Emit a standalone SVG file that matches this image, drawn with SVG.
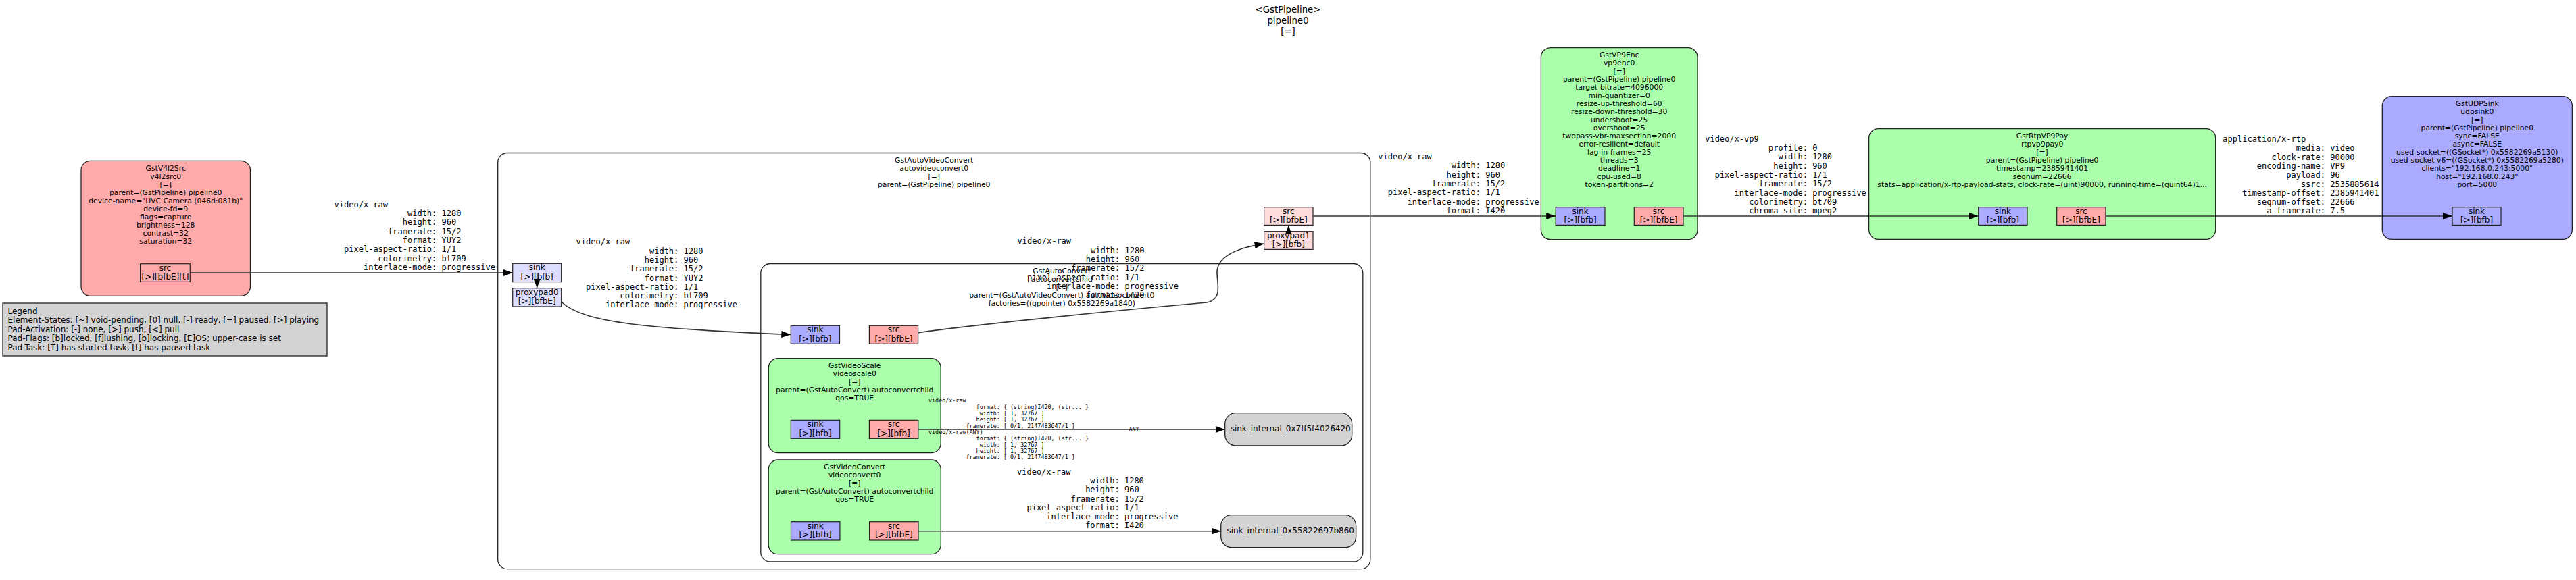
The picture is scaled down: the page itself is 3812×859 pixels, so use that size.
<svg xmlns="http://www.w3.org/2000/svg" width="3812" height="859" viewBox="0 0 3812 859">
<style>
text { font-family: "DejaVu Sans", "Noto Sans", sans-serif; fill: #000; }
.ttl { font-size: 13.3px; text-anchor: middle; }
.el { font-size: 10.8px; text-anchor: middle; }
.pad { font-size: 12px; text-anchor: middle; }
.leg { font-size: 12px; }
.nd { font-size: 12px; text-anchor: middle; }
.mono { font-family: "DejaVu Sans Mono", "Liberation Mono", monospace; font-size: 12px; white-space: pre; }
.tiny { font-family: "DejaVu Sans Mono", "Liberation Mono", monospace; font-size: 8.4px; white-space: pre; }
.box { stroke: #222; stroke-width: 1.3; }
.padbox { stroke: #222; stroke-width: 1.2; }
.edge { fill: none; stroke: #333; stroke-width: 1.6; marker-end: url(#arr); }
.green { fill: #aaffaa; }
.red { fill: #ffaaaa; }
.blue { fill: #aaaaff; }
.lred { fill: #ffdddd; }
.lblue { fill: #ddddff; }
.grey { fill: #d3d3d3; }
.white { fill: #ffffff; }
</style>
<defs>
<marker id="arr" markerWidth="14" markerHeight="10" refX="14" refY="5" orient="auto" markerUnits="userSpaceOnUse">
<path d="M0,0 L14,5 L0,10 z" fill="#000"/>
</marker>
</defs>
<rect width="3812" height="859" fill="#fff"/>

<g id="pipeline-label">
<text class="ttl" x="1906" y="18.5">&lt;GstPipeline&gt;</text>
<text class="ttl" x="1906" y="34.5">pipeline0</text>
<text class="ttl" x="1906" y="50.5">[=]</text>
</g>

<g id="legend">
<rect class="box grey" x="4" y="449" width="480" height="78"/>
<text class="leg" x="11.5" y="464.5">Legend</text>
<text class="leg" x="11.5" y="478">Element-States: [~] void-pending, [0] null, [-] ready, [=] paused, [&gt;] playing</text>
<text class="leg" x="11.5" y="491.5">Pad-Activation: [-] none, [&gt;] push, [&lt;] pull</text>
<text class="leg" x="11.5" y="505">Pad-Flags: [b]locked, [f]lushing, [b]locking, [E]OS; upper-case is set</text>
<text class="leg" x="11.5" y="518.5">Pad-Task: [T] has started task, [t] has paused task</text>
</g>

<g id="v4l2src0">
<rect class="box red" x="120" y="238.3" width="250.5" height="200" rx="14"/>
<text class="el" x="245.2" y="252.8">GstV4l2Src</text>
<text class="el" x="245.2" y="264.8">v4l2src0</text>
<text class="el" x="245.2" y="276.8">[=]</text>
<text class="el" x="245.2" y="288.8">parent=(GstPipeline) pipeline0</text>
<text class="el" x="245.2" y="300.8">device-name="UVC Camera (046d:081b)"</text>
<text class="el" x="245.2" y="312.8">device-fd=9</text>
<text class="el" x="245.2" y="324.8">flags=capture</text>
<text class="el" x="245.2" y="336.8">brightness=128</text>
<text class="el" x="245.2" y="348.8">contrast=32</text>
<text class="el" x="245.2" y="360.8">saturation=32</text>
<g id="v4l2src0_src">
<rect class="padbox red" x="207.6" y="390.7" width="73.7" height="26.7"/>
<text class="pad" x="244.4" y="400.7">src</text>
<text class="pad" x="244.4" y="414.2">[&gt;][bfbE][t]</text>
</g>
</g>

<g id="autovideoconvert0">
<rect class="box white" x="736.7" y="226.5" width="1291.1" height="616.2" rx="14"/>
<text class="el" x="1382.2" y="241.1">GstAutoVideoConvert</text>
<text class="el" x="1382.2" y="253.1">autovideoconvert0</text>
<text class="el" x="1382.2" y="265.1">[=]</text>
<text class="el" x="1382.2" y="277.1">parent=(GstPipeline) pipeline0</text>
<g id="autovideoconvert0_sink">
<rect class="padbox lblue" x="758.7" y="390.3" width="72" height="27.3"/>
<text class="pad" x="794.7" y="400.3">sink</text>
<text class="pad" x="794.7" y="413.8">[&gt;][bfb]</text>
</g>
<g id="autovideoconvert0_proxypad0">
<rect class="padbox lblue" x="758.7" y="426.7" width="72" height="27.3"/>
<text class="pad" x="794.7" y="436.7">proxypad0</text>
<text class="pad" x="794.7" y="450.2">[&gt;][bfbE]</text>
</g>
<g id="autovideoconvert0_src">
<rect class="padbox lred" x="1870.6" y="306.7" width="72.4" height="26.7"/>
<text class="pad" x="1906.8" y="316.7">src</text>
<text class="pad" x="1906.8" y="330.2">[&gt;][bfbE]</text>
</g>
<g id="autovideoconvert0_proxypad1">
<rect class="padbox lred" x="1870.6" y="342.7" width="72.4" height="26.7"/>
<text class="pad" x="1906.8" y="352.7">proxypad1</text>
<text class="pad" x="1906.8" y="366.2">[&gt;][bfb]</text>
</g>
</g>

<g id="autoconvertchild">
<rect class="box white" x="1125.8" y="390.5" width="891" height="441.5" rx="14"/>
<text class="el" x="1571.3" y="405.1">GstAutoConvert</text>
<text class="el" x="1571.3" y="417.1">autoconvertchild</text>
<text class="el" x="1571.3" y="429.1">[=]</text>
<text class="el" x="1571.3" y="441.1">parent=(GstAutoVideoConvert) autovideoconvert0</text>
<text class="el" x="1571.3" y="453.1">factories=((gpointer) 0x5582269a1840)</text>
<g id="autoconvertchild_sink">
<rect class="padbox blue" x="1170.3" y="482.3" width="72.2" height="27"/>
<text class="pad" x="1206.4" y="492.3">sink</text>
<text class="pad" x="1206.4" y="505.8">[&gt;][bfb]</text>
</g>
<g id="autoconvertchild_src">
<rect class="padbox red" x="1286.4" y="482.3" width="72.2" height="27"/>
<text class="pad" x="1322.5" y="492.3">src</text>
<text class="pad" x="1322.5" y="505.8">[&gt;][bfbE]</text>
</g>
</g>

<g id="videoscale0">
<rect class="box green" x="1137.3" y="530.7" width="254.9" height="140" rx="14"/>
<text class="el" x="1264.7" y="544.8">GstVideoScale</text>
<text class="el" x="1264.7" y="556.8">videoscale0</text>
<text class="el" x="1264.7" y="568.8">[=]</text>
<text class="el" x="1264.7" y="580.8">parent=(GstAutoConvert) autoconvertchild</text>
<text class="el" x="1264.7" y="592.8">qos=TRUE</text>
<g id="videoscale0_sink">
<rect class="padbox blue" x="1170.3" y="622.3" width="72.4" height="27"/>
<text class="pad" x="1206.5" y="632.3">sink</text>
<text class="pad" x="1206.5" y="645.8">[&gt;][bfb]</text>
</g>
<g id="videoscale0_src">
<rect class="padbox red" x="1286.4" y="622.3" width="72.4" height="27"/>
<text class="pad" x="1322.6" y="632.3">src</text>
<text class="pad" x="1322.6" y="645.8">[&gt;][bfb]</text>
</g>
</g>

<g id="videoconvert0">
<rect class="box green" x="1137.2" y="681" width="255.1" height="139.7" rx="14"/>
<text class="el" x="1264.7" y="694.8">GstVideoConvert</text>
<text class="el" x="1264.7" y="706.8">videoconvert0</text>
<text class="el" x="1264.7" y="718.8">[=]</text>
<text class="el" x="1264.7" y="730.8">parent=(GstAutoConvert) autoconvertchild</text>
<text class="el" x="1264.7" y="742.8">qos=TRUE</text>
<g id="videoconvert0_sink">
<rect class="padbox blue" x="1170.5" y="772.7" width="72.4" height="27.3"/>
<text class="pad" x="1206.7" y="782.7">sink</text>
<text class="pad" x="1206.7" y="796.2">[&gt;][bfb]</text>
</g>
<g id="videoconvert0_src">
<rect class="padbox red" x="1286.6" y="772.7" width="72.4" height="27.3"/>
<text class="pad" x="1322.8" y="782.7">src</text>
<text class="pad" x="1322.8" y="796.2">[&gt;][bfbE]</text>
</g>
</g>

<g id="sink_internal_0x7ff5f4026420">
<rect class="box grey" x="1812.7" y="611.7" width="188" height="48.3" rx="16"/>
<text class="nd" x="1906.7" y="639.3">_sink_internal_0x7ff5f4026420</text>
</g>

<g id="sink_internal_0x55822697b860">
<rect class="box grey" x="1806.7" y="762.7" width="200" height="48" rx="16"/>
<text class="nd" x="1906.7" y="790.3">_sink_internal_0x55822697b860</text>
</g>

<g id="vp9enc0">
<rect class="box green" x="2280.4" y="70.7" width="231.6" height="284" rx="14"/>
<text class="el" x="2396.2" y="84.8">GstVP9Enc</text>
<text class="el" x="2396.2" y="96.8">vp9enc0</text>
<text class="el" x="2396.2" y="108.8">[=]</text>
<text class="el" x="2396.2" y="120.8">parent=(GstPipeline) pipeline0</text>
<text class="el" x="2396.2" y="132.8">target-bitrate=4096000</text>
<text class="el" x="2396.2" y="144.8">min-quantizer=0</text>
<text class="el" x="2396.2" y="156.8">resize-up-threshold=60</text>
<text class="el" x="2396.2" y="168.8">resize-down-threshold=30</text>
<text class="el" x="2396.2" y="180.8">undershoot=25</text>
<text class="el" x="2396.2" y="192.8">overshoot=25</text>
<text class="el" x="2396.2" y="204.8">twopass-vbr-maxsection=2000</text>
<text class="el" x="2396.2" y="216.8">error-resilient=default</text>
<text class="el" x="2396.2" y="228.8">lag-in-frames=25</text>
<text class="el" x="2396.2" y="240.8">threads=3</text>
<text class="el" x="2396.2" y="252.8">deadline=1</text>
<text class="el" x="2396.2" y="264.8">cpu-used=8</text>
<text class="el" x="2396.2" y="276.8">token-partitions=2</text>
<g id="vp9enc0_sink">
<rect class="padbox blue" x="2302.2" y="306.7" width="72.8" height="26.7"/>
<text class="pad" x="2338.6" y="316.7">sink</text>
<text class="pad" x="2338.6" y="330.2">[&gt;][bfb]</text>
</g>
<g id="vp9enc0_src">
<rect class="padbox red" x="2418.3" y="306.7" width="72.7" height="26.7"/>
<text class="pad" x="2454.6" y="316.7">src</text>
<text class="pad" x="2454.6" y="330.2">[&gt;][bfbE]</text>
</g>
</g>

<g id="rtpvp9pay0">
<rect class="box green" x="2765.6" y="190.7" width="513.1" height="163.6" rx="14"/>
<text class="el" x="3022.1" y="204.8">GstRtpVP9Pay</text>
<text class="el" x="3022.1" y="216.8">rtpvp9pay0</text>
<text class="el" x="3022.1" y="228.8">[=]</text>
<text class="el" x="3022.1" y="240.8">parent=(GstPipeline) pipeline0</text>
<text class="el" x="3022.1" y="252.8">timestamp=2385941401</text>
<text class="el" x="3022.1" y="264.8">seqnum=22666</text>
<text class="el" x="3022.1" y="276.8">stats=application/x-rtp-payload-stats, clock-rate=(uint)90000, running-time=(guint64)1...</text>
<g id="rtpvp9pay0_sink">
<rect class="padbox blue" x="2927.7" y="306.7" width="72.3" height="26.7"/>
<text class="pad" x="2963.9" y="316.7">sink</text>
<text class="pad" x="2963.9" y="330.2">[&gt;][bfb]</text>
</g>
<g id="rtpvp9pay0_src">
<rect class="padbox red" x="3043.7" y="306.7" width="72.3" height="26.7"/>
<text class="pad" x="3079.9" y="316.7">src</text>
<text class="pad" x="3079.9" y="330.2">[&gt;][bfbE]</text>
</g>
</g>

<g id="udpsink0">
<rect class="box blue" x="3525.3" y="142.7" width="281.1" height="211.6" rx="14"/>
<text class="el" x="3665.8" y="157.1">GstUDPSink</text>
<text class="el" x="3665.8" y="169.1">udpsink0</text>
<text class="el" x="3665.8" y="181.1">[=]</text>
<text class="el" x="3665.8" y="193.1">parent=(GstPipeline) pipeline0</text>
<text class="el" x="3665.8" y="205.1">sync=FALSE</text>
<text class="el" x="3665.8" y="217.1">async=FALSE</text>
<text class="el" x="3665.8" y="229.1">used-socket=((GSocket*) 0x5582269a5130)</text>
<text class="el" x="3665.8" y="241.1">used-socket-v6=((GSocket*) 0x5582269a5280)</text>
<text class="el" x="3665.8" y="253.1">clients="192.168.0.243:5000"</text>
<text class="el" x="3665.8" y="265.1">host="192.168.0.243"</text>
<text class="el" x="3665.8" y="277.1">port=5000</text>
<g id="udpsink0_sink">
<rect class="padbox blue" x="3629" y="306.7" width="72" height="26.7"/>
<text class="pad" x="3665" y="316.7">sink</text>
<text class="pad" x="3665" y="330.2">[&gt;][bfb]</text>
</g>
</g>

<g id="connectors">
<path class="edge" d="M281.3,404 L758.7,404"/>
<path class="edge" d="M794.7,404 L794.7,426.7"/>
<path class="edge" d="M830.7,447 C862,478 960,487 1170.3,495.5"/>
<path class="edge" d="M1358.6,492.7 C1450,480 1650,460 1786,448 C1808,443 1802,425 1801,405 C1800,382 1825,368 1870.6,361"/>
<path class="edge" d="M1906.8,347 L1906.8,333.4"/>
<path class="edge" d="M1943,320 L2302.2,320"/>
<path class="edge" d="M2491,320 L2927.7,320"/>
<path class="edge" d="M3116,320 L3629,320"/>
<path class="edge" d="M1358.8,636 L1812.7,636"/>
<path class="edge" d="M1359,786.7 L1806.7,786.7"/>

<g id="label-v4l2src-avc" class="mono" xml:space="preserve">
<text class="mono" x="494.6" y="306.7">video/x-raw</text>
<text class="mono" x="494.6" y="320">               width: 1280</text>
<text class="mono" x="494.6" y="333.3">              height: 960</text>
<text class="mono" x="494.6" y="346.6">           framerate: 15/2</text>
<text class="mono" x="494.6" y="359.9">              format: YUY2</text>
<text class="mono" x="494.6" y="373.2">  pixel-aspect-ratio: 1/1</text>
<text class="mono" x="494.6" y="386.5">         colorimetry: bt709</text>
<text class="mono" x="494.6" y="399.8">      interlace-mode: progressive</text>
</g>
<g id="label-proxypad0-autoconvert" xml:space="preserve">
<text class="mono" x="852.6" y="362.3">video/x-raw</text>
<text class="mono" x="852.6" y="375.6">               width: 1280</text>
<text class="mono" x="852.6" y="388.9">              height: 960</text>
<text class="mono" x="852.6" y="402.2">           framerate: 15/2</text>
<text class="mono" x="852.6" y="415.5">              format: YUY2</text>
<text class="mono" x="852.6" y="428.8">  pixel-aspect-ratio: 1/1</text>
<text class="mono" x="852.6" y="442.1">         colorimetry: bt709</text>
<text class="mono" x="852.6" y="455.4">      interlace-mode: progressive</text>
</g>
<g id="label-autoconvert-proxypad1" xml:space="preserve">
<text class="mono" x="1505.6" y="361.3">video/x-raw</text>
<text class="mono" x="1505.6" y="374.6">               width: 1280</text>
<text class="mono" x="1505.6" y="387.9">              height: 960</text>
<text class="mono" x="1505.6" y="401.2">           framerate: 15/2</text>
<text class="mono" x="1505.6" y="414.5">  pixel-aspect-ratio: 1/1</text>
<text class="mono" x="1505.6" y="427.8">      interlace-mode: progressive</text>
<text class="mono" x="1505.6" y="441.1">              format: I420</text>
</g>
<g id="label-avc-vp9enc" xml:space="preserve">
<text class="mono" x="2039.3" y="236">video/x-raw</text>
<text class="mono" x="2039.3" y="249.3">               width: 1280</text>
<text class="mono" x="2039.3" y="262.6">              height: 960</text>
<text class="mono" x="2039.3" y="275.9">           framerate: 15/2</text>
<text class="mono" x="2039.3" y="289.2">  pixel-aspect-ratio: 1/1</text>
<text class="mono" x="2039.3" y="302.5">      interlace-mode: progressive</text>
<text class="mono" x="2039.3" y="315.8">              format: I420</text>
</g>
<g id="label-vp9enc-rtpvp9pay" xml:space="preserve">
<text class="mono" x="2523.2" y="209.7">video/x-vp9</text>
<text class="mono" x="2523.2" y="223">             profile: 0</text>
<text class="mono" x="2523.2" y="236.3">               width: 1280</text>
<text class="mono" x="2523.2" y="249.6">              height: 960</text>
<text class="mono" x="2523.2" y="262.9">  pixel-aspect-ratio: 1/1</text>
<text class="mono" x="2523.2" y="276.2">           framerate: 15/2</text>
<text class="mono" x="2523.2" y="289.5">      interlace-mode: progressive</text>
<text class="mono" x="2523.2" y="302.8">         colorimetry: bt709</text>
<text class="mono" x="2523.2" y="316.1">         chroma-site: mpeg2</text>
</g>
<g id="label-rtpvp9pay-udpsink" xml:space="preserve">
<text class="mono" x="3289.3" y="210">application/x-rtp</text>
<text class="mono" x="3289.3" y="223.3">               media: video</text>
<text class="mono" x="3289.3" y="236.6">          clock-rate: 90000</text>
<text class="mono" x="3289.3" y="249.9">       encoding-name: VP9</text>
<text class="mono" x="3289.3" y="263.2">             payload: 96</text>
<text class="mono" x="3289.3" y="276.5">                ssrc: 2535885614</text>
<text class="mono" x="3289.3" y="289.8">    timestamp-offset: 2385941401</text>
<text class="mono" x="3289.3" y="303.1">       seqnum-offset: 22666</text>
<text class="mono" x="3289.3" y="316.4">         a-framerate: 7.5</text>
</g>
<g id="label-videoscale-sinkinternal" xml:space="preserve">
<text class="tiny" x="1374" y="596.3">video/x-raw</text>
<text class="tiny" x="1374" y="605.65">              format: { (string)I420, (str... }</text>
<text class="tiny" x="1374" y="615">               width: [ 1, 32767 ]</text>
<text class="tiny" x="1374" y="624.35">              height: [ 1, 32767 ]</text>
<text class="tiny" x="1374" y="633.7">           framerate: [ 0/1, 2147483647/1 ]</text>
<text class="tiny" x="1374" y="643.05">video/x-raw(ANY)</text>
<text class="tiny" x="1374" y="652.4">              format: { (string)I420, (str... }</text>
<text class="tiny" x="1374" y="661.75">               width: [ 1, 32767 ]</text>
<text class="tiny" x="1374" y="671.1">              height: [ 1, 32767 ]</text>
<text class="tiny" x="1374" y="680.45">           framerate: [ 0/1, 2147483647/1 ]</text>
<text class="tiny" x="1678" y="638.5" text-anchor="middle">ANY</text>
</g>
<g id="label-videoconvert-sinkinternal" xml:space="preserve">
<text class="mono" x="1505" y="703">video/x-raw</text>
<text class="mono" x="1505" y="716.2">               width: 1280</text>
<text class="mono" x="1505" y="729.4">              height: 960</text>
<text class="mono" x="1505" y="742.6">           framerate: 15/2</text>
<text class="mono" x="1505" y="755.8">  pixel-aspect-ratio: 1/1</text>
<text class="mono" x="1505" y="769">      interlace-mode: progressive</text>
<text class="mono" x="1505" y="782.2">              format: I420</text>
</g>
</g>
</svg>
